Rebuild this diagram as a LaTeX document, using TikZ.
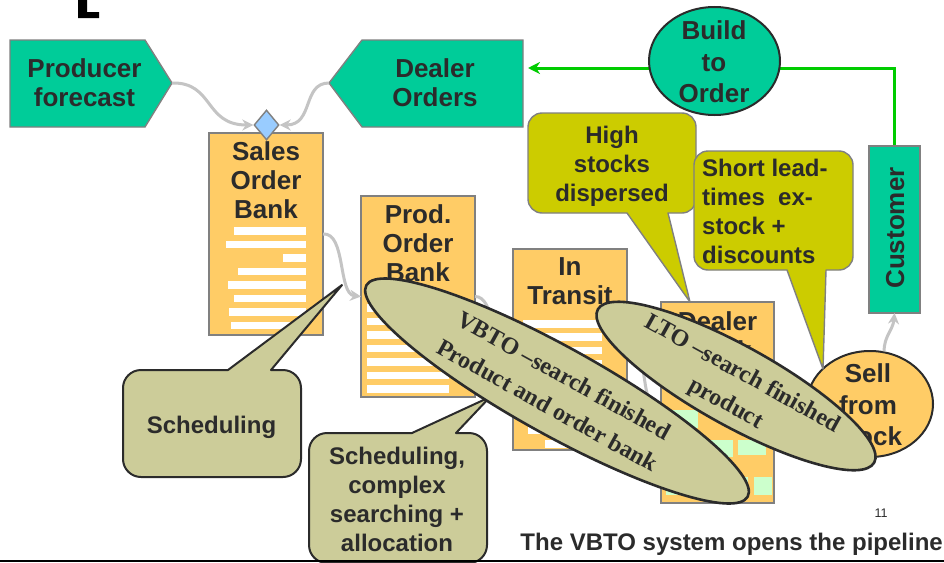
\documentclass[tikz,border=0pt]{standalone}
\usepackage{fontspec}
\setmainfont{Liberation Sans}
\newfontfamily\romanface{Liberation Serif}
\usetikzlibrary{arrows.meta,shapes.geometric}

\definecolor{mint}{HTML}{00CC99}
\definecolor{amber}{HTML}{FFCC66}
\definecolor{mustard}{HTML}{CCCC00}
\definecolor{sage}{HTML}{CCCC99}
\definecolor{leaf}{HTML}{00CC00}
\definecolor{sky}{HTML}{99CCFF}
\definecolor{pale}{HTML}{CCFFCC}
\definecolor{edge}{HTML}{808080}
\definecolor{flowgray}{HTML}{C4C4C4}
\definecolor{ink}{HTML}{2B2B2B}

% rounded speech bubble, pointer leaving the bottom edge
% #1 style, #2 x1, #3 y1, #4 x2, #5 y2, #6 xa, #7 xb, #8 tip x, #9 tip y
\newcommand\bubbledown[9]{%
  \pgfmathsetmacro\bubc{0.448*\bubr}%
  \draw[#1] (#8,#9) -- (#6,#5) -- ({#2+\bubr},#5)
    .. controls ({#2+\bubc},#5) and (#2,{#5-\bubc}) .. (#2,{#5-\bubr})
    -- (#2,{#3+\bubr})
    .. controls (#2,{#3+\bubc}) and ({#2+\bubc},#3) .. ({#2+\bubr},#3)
    -- ({#4-\bubr},#3)
    .. controls ({#4-\bubc},#3) and (#4,{#3+\bubc}) .. (#4,{#3+\bubr})
    -- (#4,{#5-\bubr})
    .. controls (#4,{#5-\bubc}) and ({#4-\bubc},#5) .. ({#4-\bubr},#5)
    -- (#7,#5) -- cycle;}
% rounded speech bubble, pointer leaving the top edge
\newcommand\bubbleup[9]{%
  \pgfmathsetmacro\bubc{0.448*\bubr}%
  \draw[#1] (#8,#9) -- (#7,#3) -- ({#4-\bubr},#3)
    .. controls ({#4-\bubc},#3) and (#4,{#3+\bubc}) .. (#4,{#3+\bubr})
    -- (#4,{#5-\bubr})
    .. controls (#4,{#5-\bubc}) and ({#4-\bubc},#5) .. ({#4-\bubr},#5)
    -- ({#2+\bubr},#5)
    .. controls ({#2+\bubc},#5) and (#2,{#5-\bubc}) .. (#2,{#5-\bubr})
    -- (#2,{#3+\bubr})
    .. controls (#2,{#3+\bubc}) and ({#2+\bubc},#3) .. ({#2+\bubr},#3)
    -- (#6,#3) -- cycle;}

\begin{document}
\begin{tikzpicture}[x=1pt,y=-1pt,
  sheet/.style={draw=edge, line width=1.4pt, fill=amber, inner sep=0pt, outer sep=0pt},
  tag/.style={draw=edge, line width=1.4pt, fill=mint},
  flow/.style={draw=flowgray, line width=3pt, -{Stealth[length=11pt,width=11pt]}},
  greenflow/.style={draw=leaf, line width=3pt, -{Stealth[length=12pt,width=12pt]}},
  bigtxt/.style={font=\fontsize{26}{29}\selectfont\bfseries, text=ink, align=center, inner sep=0pt, text depth=0pt},
  loosetxt/.style={bigtxt, font=\fontsize{26}{31.5}\selectfont\bfseries},
  calltxt/.style={font=\fontsize{24}{29}\selectfont\bfseries, text=ink, align=center, inner sep=0pt, text depth=0pt},
  serifcap/.style={font=\romanface\bfseries\fontsize{24}{34}\selectfont, text=ink, align=center, inner sep=0pt, text depth=0pt, rotate=-29},
  yellowbubble/.style={draw=edge, line width=1.4pt, fill=mustard, line join=round},
  sagebubble/.style={draw=ink, line width=2pt, fill=sage, line join=round},
  lens/.style={ellipse, draw=ink, line width=2.6pt, fill=sage, inner sep=0pt, rotate=-29},
  bar/.style={fill=white},
  block/.style={fill=pale}]

\useasboundingbox (0,0) rectangle (944,562);
\fill[white] (0,0) rectangle (944,562);

% corner mark
\fill[black] (78,0) -- (87,0) -- (87,12) -- (99,12) -- (99,18) -- (78,18) -- cycle;

% forecast and order tags
\draw[tag] (10,40) -- (145,40) -- (172,83) -- (145,127) -- (10,127) -- cycle;
\coordinate (pfTip) at (172,83);
\node[bigtxt] (pfText) at (84.5,82.5) {Producer\\forecast};
\draw[tag] (523,40) -- (362,40) -- (329,83) -- (362,127) -- (523,127) -- cycle;
\coordinate (doTip) at (329,83);
\coordinate (doEnd) at (528,68);
\node[bigtxt] (doText) at (435,82.5) {Dealer\\Orders};

% sales order bank
\node[sheet, minimum width=114pt, minimum height=202pt] (sob) at (266,234) {};
\foreach \lx/\ty in {234/227, 226/240.5, 283/254, 238/267.5, 228/281, 234/294.5, 229/308, 231/321.5}
  \fill[bar] (\lx,\ty) rectangle (306,{\ty+7.5});
\node[bigtxt] (sobText) at (266,180) {Sales\\Order\\Bank};
\node[diamond, draw=edge, fill=sky, line width=1.4pt, minimum width=25pt, minimum height=30pt, inner sep=0pt] (dia) at (266.5,125) {};

\draw[flow] (pfTip) .. controls (214,82) and (204,125) .. (dia.west);
\draw[flow] (doTip) .. controls (302,83) and (314,125) .. (dia.east);

% production order bank
\node[sheet, minimum width=114pt, minimum height=201pt] (pob) at (418,296.5) {};
\foreach \ty in {290.5, 304, 317.5, 331, 344.5, 358, 371.5, 385}
  \fill[bar] (367,\ty) rectangle (449,{\ty+7.5});
\node[bigtxt] (pobText) at (418,243.5) {Prod.\\Order\\Bank};

% in transit
\node[sheet, minimum width=114pt, minimum height=201pt] (itr) at (570,349.5) {};
\foreach \lx/\ty in {523/320, 523/333.3, 523/346.7, 523/360, 523/373.3, 523/386.7, 523/400, 523/413.3, 528/426.7, 545/440}
  \fill[bar] (\lx,\ty) rectangle (602,{\ty+7.5});
\node[bigtxt] (itrText) at (570,281.5) {In\\Transit};

% dealer stock
\node[sheet, minimum width=113pt, minimum height=201pt] (dst) at (717.5,402.5) {};
\foreach \ax/\ay/\bx/\by in {666/410/698/428, 710/440/733/457, 738/440/766/455, 666/477/700/495, 716/477/748/495, 754/477/772/495}
  \fill[block] (\ax,\ay) rectangle (\bx,\by);
\node[bigtxt] (dstText) at (717.5,335.5) {Dealer\\stock};

\draw[flow] (sob.east) .. controls (346,232) and (338,294) .. (pob.west);
\draw[flow] (pob.east) .. controls (495,296) and (492,350) .. (itr.west);
\draw[flow] (itr.east) .. controls (650,349) and (640,402) .. (dst.west);

% build to order loop
\node[draw=none] (cust) at (894.5,229.5) [minimum width=51pt, minimum height=167pt, inner sep=0pt, outer sep=0pt] {};
\draw[greenflow] (cust.north) |- (doEnd);
\node[ellipse, draw=ink, line width=2pt, fill=mint, minimum width=131pt, minimum height=108pt, inner sep=0pt] (bto) at (714.5,61) {};
\node[loosetxt] (btoText) at (714,62) {Build\\to\\Order};

% customer and stock sale
\draw[tag] (cust.south west) rectangle (cust.north east);
\node[bigtxt, rotate=90] (custText) at (895,228) {Customer};
\node[ellipse, draw=ink, line width=2pt, fill=amber, minimum width=126pt, minimum height=106pt, inner sep=0pt] (sell) at (870,404) {};
\node[loosetxt] (sellText) at (868,405) {Sell\\from\\stock};
\draw[flow] (sell.75) .. controls (884,336) and (893,330) .. (cust.south);

% yellow remarks
\def\bubr{14}
\bubbledown{yellowbubble}{528}{113}{696}{213}{627}{668}{690}{302}
\node[calltxt] (highText) at (612,164) {High\\stocks\\dispersed};
\bubbledown{yellowbubble}{694}{151}{853}{270}{787}{826}{823}{369}
\node[calltxt, align=left, anchor=west] (shortText) at (702,211) {Short lead-\\times\ \ ex-\\stock +\\discounts};

% scheduling remarks
\def\bubr{18}
\bubbleup{sagebubble}{123}{370}{301}{477}{228}{271}{342}{285}
\node[calltxt] (schedText) at (211.5,425) {Scheduling};
\bubbleup{sagebubble}{309}{433}{487}{563}{412}{456}{490}{397}
\node[calltxt] (searchText) at (397,499) {Scheduling,\\complex\\searching +\\allocation};

% search lenses
\node[lens, minimum width=436pt, minimum height=88pt] (vbto) at (557,391) {};
\node[serifcap] (vbtoText) at (556,390) {VBTO \textendash search finished\\Product and order bank};
\node[lens, minimum width=316pt, minimum height=80pt] (lto) at (736,386) {};
\node[serifcap] (ltoText) at (735,387) {LTO \textendash search finished\\product};

% footer
\node[font=\fontsize{12.5}{14}\selectfont, text=ink, anchor=base, inner sep=0pt] (pageNo) at (881,517) {11};
\node[font=\fontsize{24}{28}\selectfont\bfseries, text=ink, anchor=base east, inner sep=0pt] (footText) at (943,550) {The VBTO system opens the pipeline};
\fill[black] (0,559.5) rectangle (944,562);
\end{tikzpicture}
\end{document}
